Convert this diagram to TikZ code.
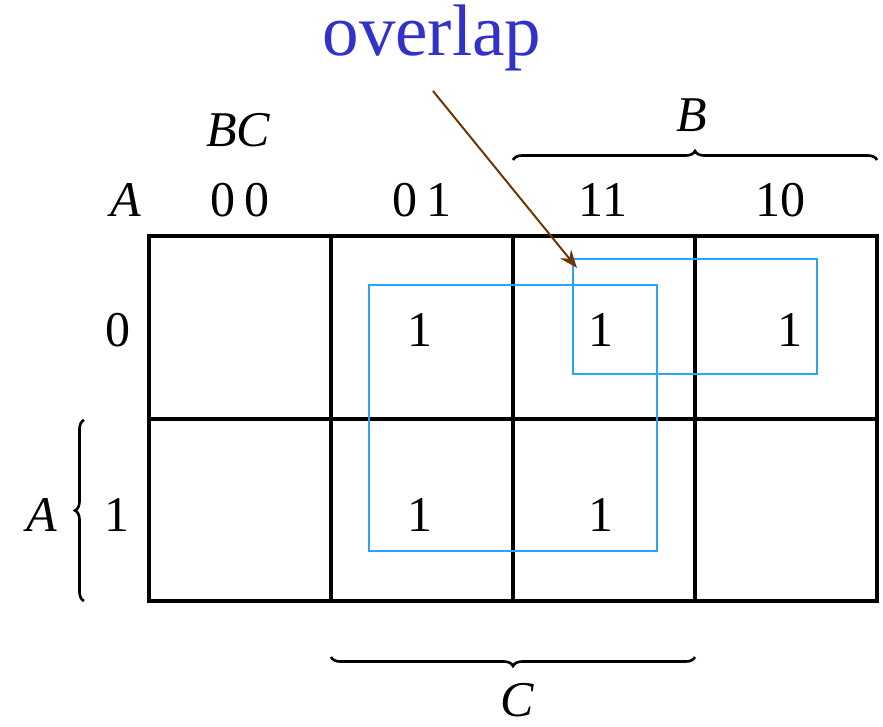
\documentclass[tikz,border=0pt]{standalone}
\usepackage{fontspec}
\setmainfont{Liberation Serif}
\usetikzlibrary{decorations.pathreplacing,arrows.meta}
\definecolor{loopblue}{RGB}{40,165,250}
\definecolor{txtblue}{RGB}{50,50,200}
\definecolor{arrbrown}{RGB}{110,55,5}
\begin{document}
\begin{tikzpicture}[x=1pt,y=-1pt,
  lbl/.style={inner sep=0pt,font=\fontsize{50}{58}\selectfont},
  ilbl/.style={inner sep=0pt,font=\fontsize{50}{58}\selectfont\itshape},
  grid/.style={line width=4pt},
  loopbox/.style={draw=loopblue,line width=2pt},
  bracestyle/.style={decorate,decoration={brace,amplitude=9pt},line width=2.6pt}]
\useasboundingbox (0,0) rectangle (883,727);
% grid
\draw[grid] (149,236) rectangle (877,601);
\draw[grid] (331,236) -- (331,601);
\draw[grid] (513,236) -- (513,601);
\draw[grid] (695,236) -- (695,601);
\draw[grid] (149,419) -- (877,419);
% loops
\draw[loopbox] (369,285) rectangle (657,551);
\draw[loopbox] (573,259) rectangle (817,374);
% column labels
\node[ilbl] (A0) at (126,200) {A};
\node[ilbl] (BC) at (238,130) {BC};
\node[lbl] (c00) at (240,200) {0\,0};
\node[lbl] (c01) at (422,200) {0\,1};
\node[lbl] (c11) at (603,200) {11};
\node[lbl] (c10) at (780,200) {10};
% row labels
\node[lbl] (r0) at (118,330) {0};
\node[lbl] (r1) at (117,515) {1};
% cells
\node[lbl] (m1) at (420,330) {1};
\node[lbl] (m3) at (601,330) {1};
\node[lbl] (m2) at (790,330) {1};
\node[lbl] (m5) at (420,515) {1};
\node[lbl] (m7) at (601,515) {1};
% braces
\coordinate (bL) at (513,160);
\coordinate (bR) at (877,160);
\draw[bracestyle] (bL) -- (bR);
\node[ilbl] (B) at (692,115) {B};
\coordinate (cL) at (695,657);
\coordinate (cR) at (331,657);
\draw[bracestyle] (cL) -- (cR);
\node[ilbl] (C) at (517,700) {C};
\coordinate (aT) at (84,601);
\coordinate (aB) at (84,420);
\draw[bracestyle] (aT) -- (aB);
\node[ilbl] (A1) at (42,515) {A};
% overlap
\node[inner sep=0pt,font=\fontsize{73}{80}\selectfont,text=txtblue] (ov) at (432,38) {overlap};
\coordinate (os) at (433,91);
\coordinate (oe) at (577,268);
\draw[arrbrown,line width=2pt,-{Stealth[length=18pt,width=14pt]}] (os) -- (oe);
\end{tikzpicture}
\end{document}
